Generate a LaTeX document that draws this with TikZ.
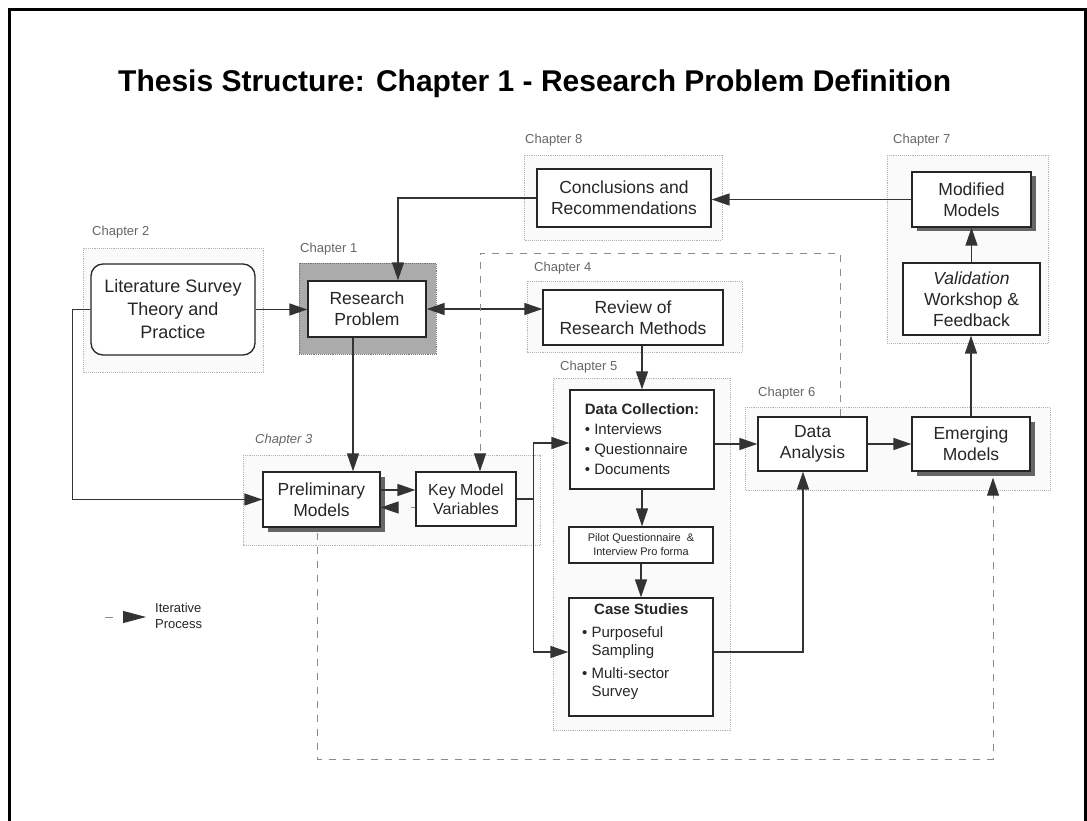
\documentclass[tikz,border=0pt]{standalone}
\usepackage{fontspec}
\setmainfont{Liberation Sans}
\usetikzlibrary{arrows.meta,calc,shadows}
\definecolor{ink}{HTML}{262626}
\definecolor{wire}{HTML}{333333}
\definecolor{chap}{HTML}{666666}
\definecolor{loopgray}{HTML}{8C8C8C}
\definecolor{zone}{HTML}{B4B4B4}
\begin{document}
\begin{tikzpicture}[x=1pt,y=-1pt,
  box/.style={draw=ink,line width=1.3pt,fill=white,inner sep=2pt,align=center,
    text=ink,font=\fontsize{17.5}{21}\selectfont},
  shade3/.style={drop shadow={shadow xshift=4.5pt,shadow yshift=-4.5pt,fill=black!60,opacity=1}},
  chaplabel/.style={anchor=west,inner sep=0pt,text=chap,font=\fontsize{13}{15}\selectfont},
  region/.style={draw=zone,densely dotted,line width=0.9pt,fill=black!2},
  arr/.style={draw=wire,line width=1.4pt,-{Triangle[length=18pt,width=12pt,color=wire]}},
  iter/.style={draw=loopgray,line width=1pt,dash pattern=on 7pt off 7pt},
  iterarr/.style={iter,-{Triangle[length=18pt,width=12pt,color=wire]}},
]
\useasboundingbox (0,0) rectangle (1087,821);
\fill[white] (0,0) rectangle (1087,821);

% page frame
\draw[line width=3pt,black] (9,821) -- (9,10) -- (1085,10) -- (1085,821);

% title
\node[anchor=base west,inner sep=0pt,font=\fontsize{30}{34}\selectfont\bfseries,text=black]
  (title) at (118,92) {Thesis Structure: Chapter 1 - Research Problem Definition};

% chapter zones
\draw[region] (83,248) rectangle (263,372);
\draw[region] (524,155) rectangle (722,240);
\draw[region] (887,155) rectangle (1048,343);
\draw[region] (527,281) rectangle (742,352);
\draw[region] (243,455) rectangle (540,545);
\draw[region] (553,378) rectangle (730,730);
\draw[region] (745,407) rectangle (1050,490);
\fill[black!33] (299,263) rectangle (436,354);
\draw[black!55,densely dotted,line width=0.9pt] (299,263) rectangle (436,354);

% chapter labels
\node[chaplabel] (c8) at (525,140) {Chapter 8};
\node[chaplabel] (c7) at (893,140) {Chapter 7};
\node[chaplabel] (c2) at (92,232) {Chapter 2};
\node[chaplabel] (c1) at (300,249) {Chapter 1};
\node[chaplabel] (c4) at (534,268) {Chapter 4};
\node[chaplabel] (c5) at (560,367) {Chapter 5};
\node[chaplabel] (c6) at (758,393) {Chapter 6};
\node[chaplabel,font=\fontsize{13}{15}\selectfont\itshape] (c3) at (255,440) {Chapter 3};

% boxes
\node[box,rounded corners=12pt,minimum width=164pt,minimum height=91pt,
  font=\fontsize{18}{23}\selectfont] (lit) at (173,309.5)
  {Literature Survey\\Theory and\\Practice};
\node[box,minimum width=118pt,minimum height=56pt] (research) at (367,309) {Research\\Problem};
\node[box,minimum width=174pt,minimum height=58pt] (concl) at (624,198) {Conclusions and\\Recommendations};
\node[box,shade3,minimum width=119pt,minimum height=55pt] (modified) at (971.5,199.5) {Modified\\Models};
\node[box,minimum width=137pt,minimum height=72pt] (valid) at (971.5,299) {\itshape Validation\\Workshop \&\\Feedback};
\node[box,minimum width=180pt,minimum height=55pt] (review) at (633,317.5) {Review of\\Research Methods};
\node[box,align=left,minimum width=144pt,minimum height=99pt,
  font=\fontsize{15}{20}\selectfont] (dc) at (642,439.5)
  {{\bfseries Data Collection:}\\\textbullet\ Interviews\\\textbullet\ Questionnaire\\\textbullet\ Documents};
\node[box,minimum width=109pt,minimum height=54pt] (da) at (812.5,444) {Data\\Analysis};
\node[box,shade3,minimum width=118pt,minimum height=54pt] (emerg) at (971,444) {Emerging\\Models};
\node[box,shade3,minimum width=117pt,minimum height=55pt] (prelim) at (321.5,499.5) {Preliminary\\Models};
\node[box,minimum width=100pt,minimum height=54pt,font=\fontsize{16}{19}\selectfont] (key) at (466,499) {Key Model\\Variables};
\node[box,minimum width=144pt,minimum height=36pt,font=\fontsize{11}{14}\selectfont] (pilot) at (641,545)
  {Pilot Questionnaire~~\&\\Interview Pro forma};
\node[box,minimum width=144pt,minimum height=118pt] (case) at (641,657) {};
\node[anchor=north west,inner sep=0pt,align=left,text=ink,font=\fontsize{15}{18}\selectfont]
  (casetext) at (582,603)
  {\hspace*{12pt}{\bfseries Case Studies}\\[5pt]
   \textbullet\ Purposeful\\\hphantom{\textbullet\ }Sampling\\[5pt]
   \textbullet\ Multi-sector\\\hphantom{\textbullet\ }Survey};

% solid connectors
\draw[arr] (lit.west) -- ++(-18,0) |- (prelim.west);
\draw[arr] (lit.east) -- (lit.east -| research.west);
\draw[draw=wire,line width=1.4pt,{Triangle[length=18pt,width=12pt,color=wire]}-{Triangle[length=18pt,width=12pt,color=wire]}]
  (research.east) -- (research.east -| review.west);
\draw[arr] ([xshift=-14pt]research.south) -- ([xshift=-14pt]research.south |- prelim.north);
\draw[arr] (concl.west) -| ([xshift=31pt]research.north);
\draw[arr] (modified.west) -- (modified.west -| concl.east);
\draw[arr] (valid.north) -- (modified.south);
\draw[arr] (emerg.north) -- (emerg.north |- valid.south);
\draw[arr] (review.south -| dc.north) -- (dc.north);
\draw[arr] (dc.south) -- (dc.south |- pilot.north);
\draw[arr] (pilot.south) -- (pilot.south |- case.north);
\draw[arr] (dc.east |- da.west) -- (da.west);
\draw[arr] (da.east) -- (emerg.west |- da.east);
\draw[arr] ([yshift=9.5pt]prelim.east) -- ([yshift=9.5pt]prelim.east -| key.west);
\draw[draw=wire,line width=1.4pt] (key.east) -- ++(17,0) coordinate (split);
\draw[arr] (split) |- ([yshift=-3.5pt]dc.west);
\draw[arr] (split) |- ([yshift=5pt]case.west);
\draw[arr] ([yshift=5pt]case.east) -| ([xshift=-9.5pt]da.south);

% iterative (dashed) connectors
\draw[iterarr,dash pattern=on 4pt off 30pt] ([yshift=-8.5pt]key.west) -- ([yshift=-8.5pt]key.west -| prelim.east);
\coordinate (loopNW) at (480,253);
\coordinate (loopNE) at (840,253);
\draw[iterarr] ([xshift=27.5pt]da.north) -- (loopNE) -- (loopNW) -- (key.north -| loopNW);
\coordinate (loopSW) at (317,759);
\coordinate (loopSE) at (993,759);
\draw[iterarr,shorten >=6pt] ([xshift=-4.5pt,yshift=-5pt]prelim.south) -- (loopSW) -- (loopSE) -- (loopSE |- emerg.south);

% legend
\coordinate (legA) at (105,617);
\coordinate (legB) at (146,617);
\draw[iterarr,dash pattern=on 8pt off 40pt,-{Triangle[length=23pt,width=12pt,color=wire]}] (legA) -- (legB);
\node[anchor=west,inner sep=0pt,align=left,text=ink,font=\fontsize{13}{16}\selectfont]
  (legtext) at (155,616) {Iterative\\Process};
\end{tikzpicture}
\end{document}
